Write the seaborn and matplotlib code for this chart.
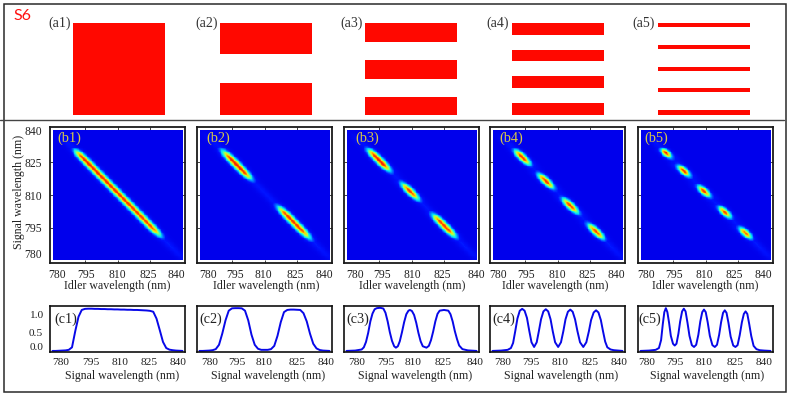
import numpy as np
import matplotlib
matplotlib.use("Agg")
import matplotlib.pyplot as plt
from matplotlib.colors import LinearSegmentedColormap
from matplotlib.transforms import ScaledTranslation
from matplotlib.patches import Rectangle
from matplotlib.lines import Line2D
import seaborn as sns

W, H = 789, 395
tick_values = [780, 795, 810, 825, 840]

x_even = list(np.arange(780, 840.5, 1.5))
c1 = [0, 0, .005, .01, .015, .03, .1, .55, .95, 1.14, 1.17, 1.175, 1.175, 1.17, 1.17, 1.165, 1.165, 1.16, 1.16, 1.155, 1.155,
      1.15, 1.15, 1.145, 1.145, 1.14, 1.14, 1.135, 1.13, 1.125, 1.115, 1.09, .9, .58, .25, .08, .035, .02, .01, .005, 0]
c2 = [0, 0, .005, .01, .02, .05, .17, .48, .85, 1.12, 1.185, 1.19, 1.19, 1.185, 1.12, .85, .45, .17, .06, .03, .03,
      .03, .05, .14, .42, .80, 1.08, 1.14, 1.15, 1.15, 1.145, 1.14, 1.05, .82, .48, .2, .07, .025, .01, .005, 0]
x_c3 = [780, 784, 787, 788, 789, 790, 791, 792, 793, 794, 795.5, 797, 798, 799, 800, 801, 802, 802.8, 803.7, 804.6,
        805.6, 806.6, 807.6, 808.6, 809.3, 810.2, 811.2, 812.2, 813.2, 814.2, 815.2, 816.9, 818, 819, 820, 821, 822,
        823, 825, 827, 828, 829, 830, 831, 832, 833.5, 836, 840]
c3 = [0, .01, .04, .1, .25, .5, .82, 1.04, 1.16, 1.19, 1.2, 1.18, 1.06, .82, .52, .28, .13, .09, .13, .27,
      .52, .8, 1.02, 1.12, 1.14, 1.11, 1.0, .78, .5, .27, .13, .09, .14, .3, .54, .82, 1.03,
      1.12, 1.14, 1.12, 1.02, .82, .55, .33, .15, .05, .015, 0]
x_c4 = [780, 784, 787, 788.5, 789.5, 790.5, 791.5, 792.6, 793.7, 794.8, 795.9, 797, 798, 799.2, 800.4, 801.4, 802.4,
        803.5, 804.6, 805.7, 806.8, 807.8, 808.9, 810.3, 811.6, 812.7, 813.7, 814.8, 815.9, 817, 818.1, 819.2, 820.4,
        821.9, 823.3, 824.5, 825.5, 826.7, 827.8, 828.9, 830, 831, 832, 833, 834.5, 836, 838, 840]
c4 = [0, .01, .03, .08, .22, .55, .9, 1.12, 1.17, 1.12, .92, .55, .24, .11, .24, .55, .88,
      1.1, 1.16, 1.1, .88, .55, .24, .11, .24, .55, .88, 1.09, 1.15, 1.09, .88, .55, .24,
      .11, .24, .55, .86, 1.07, 1.13, 1.07, .86, .55, .26, .1, .04, .02, .01, 0]
x_c5 = [780, 784, 787, 788.5, 789.5, 790.3, 791, 791.7, 792.4, 793.2, 794, 795, 795.8, 796.6, 797.5, 798.3, 799.2, 800,
        800.8, 801.7, 802.6, 803.7, 804.7, 805.7, 806.7, 807.6, 808.5, 809.3, 810.1, 811, 812, 813.2, 814.3, 815.3,
        816.3, 817.2, 818.1, 818.9, 819.7, 820.6, 821.6, 822.8, 823.8, 824.8, 825.8, 826.8, 827.7, 828.5, 829.3, 830.2,
        831.1, 832.2, 833.5, 835, 837, 840]
c5 = [0, .01, .03, .08, .3, .75, 1.08, 1.19, 1.08, .78, .42, .2, .15, .2, .48, .82, 1.1, 1.175,
      1.1, .78, .42, .16, .11, .17, .45, .82, 1.08, 1.15, 1.08, .8, .42, .16, .11, .17,
      .45, .8, 1.06, 1.13, 1.06, .78, .4, .15, .11, .16, .44, .8, 1.03, 1.1, 1.03, .74,
      .42, .14, .05, .02, .01, 0]
spectra = [(x_even, c1), (x_even, c2), (x_c3, c3), (x_c4, c4), (x_c5, c5)]

# faint diagonal glow seen between the lobes and out to the bottom-right corner
glow_x = [780, 783, 786, 787.5, 835, 838.5, 840]
glow = [0, .03, .1, .13, .14, .11, .07]
# falloff across the diagonal, in steps of 0.75 nm of (idler + signal)
cross = [1, .88, .66, .43, .25, .12, .05, .02, 0]

# slit mask edges (fraction of aperture height)
slit_a1 = [(0, 1)]
slit_a2 = [(0, .338), (.655, 1)]
slit_a3 = [(0, .207), (.407, .607), (.804, 1)]
slit_a4 = [(0, .127), (.295, .41), (.582, .705), (.873, 1)]
slit_a5 = [(0, .047), (.24, .284), (.476, .524), (.713, .756), (.949, 1)]
slits = [slit_a1, slit_a2, slit_a3, slit_a4, slit_a5]

a_left = [73, 220.3, 365, 512.3, 658.3]
a_label_x = [59.5, 206.7, 351.7, 497.7, 643.7]
panel_left = [50, 197, 344, 490, 638]
b_label_x = [69.5, 218, 367.7, 511.7, 656.7]
c_label_x = [65.5, 211, 358, 504, 650]
b_xlabel_x = [117, 266.7, 412, 555, 705.7]
c_xlabel_x = [121.7, 268, 415, 561, 706.7]
b_tick_off = [[5, 1.5, 0, -2, -6], [9, 3.5, -1.5, -2, -5], [9, 3.5, .5, -2, 0], [6, 1.5, -.5, -3, -6], [6, 1.5, -1.5, -4, -7]]
c_tick_off = [[8, 5.5, 2.5, -1, -4], [10, 4.5, 0, 0, -3], [10, 7, 1.5, -1, -1], [10, 5.5, 2.5, 0, -3], [6, 1.5, -1.5, -3, -6]]

sns.set_theme(style="white")
plt.rcParams["font.family"] = ["Liberation Serif", "DejaVu Serif"]
plt.rcParams["axes.linewidth"] = 1.1

cmap = LinearSegmentedColormap.from_list(
    "jetlike", ["#0000ec", "#0010ff", "#0070ff", "#00d8ff", "#40ffb0", "#b8ff40", "#ffd000", "#ff5000", "#e80000"])

fig = plt.figure(figsize=(W / 100, H / 100), dpi=100)


def px_axes(x0, y0, x1, y1):
    return fig.add_axes([x0 / W, 1 - y1 / H, (x1 - x0) / W, (y1 - y0) / H])


def shift_labels(labels, dx=None, dy=None):
    for i, lab in enumerate(labels):
        ox = dx[i] if dx is not None else 0
        oy = dy[i] if dy is not None else 0
        lab.set_transform(lab.get_transform() + ScaledTranslation(ox / 100, oy / 100, fig.dpi_scale_trans))


def ftext(x, y, s, **kw):
    kw.setdefault("ha", "center")
    kw.setdefault("va", "center")
    kw.setdefault("zorder", 5)
    fig.text(x / W, 1 - y / H, s, **kw)


# outer frame + divider
fig.add_artist(Rectangle((3.5 / W, 1 - 392 / H), 782 / W, 388 / H, transform=fig.transFigure,
                         fill=False, ec="#2a2a2a", lw=1.1))
fig.add_artist(Line2D([0, 784 / W], [1 - 120 / H] * 2, transform=fig.transFigure, color="#444444", lw=1.0))
ftext(22, 15.5, "S6", color="#ff1010", fontsize=11.5, family=["Lato", "DejaVu Sans"])

# (a) masks
for i, bands in enumerate(slits):
    ax = px_axes(a_left[i], 23, a_left[i] + 91.7, 114.7)
    ax.barh([(s + e) / 2 for s, e in bands], [1] * len(bands), height=[e - s for s, e in bands],
            left=0, color="#ff0800", linewidth=0)
    ax.set_xlim(0, 1)
    ax.set_ylim(1, 0)
    ax.axis("off")
    ftext(a_label_x[i], 23.7, f"(a{i + 1})", color="#333333", fontsize=10)

# (b) joint spectra: the read profile is applied along both axes, mostly the signal
n = 160
step = 60 / n
centers = 780 + step * (np.arange(n) + .5)
margin = 2.5 * n / 130
for i, (sx, sy) in enumerate(spectra):
    left = panel_left[i]
    mirrored = 1621 - centers
    p_sig = np.interp(mirrored, sx, np.array(sy) / 1.2)
    p_idl = np.interp(centers, sx, np.array(sy) / 1.2)
    g_sig = np.interp(mirrored, glow_x, glow)
    cols, rows = np.meshgrid(np.arange(n), np.arange(n))
    lobes = .97 * (p_sig[rows] ** .7) * (p_idl[cols] ** .3)
    k = np.abs(centers[cols] + centers[rows] - 1621) / .75
    weight = np.interp(k, np.arange(len(cross)), cross)
    matrix = np.maximum(lobes, g_sig[rows]) * weight
    ax = px_axes(left, 127, left + 135, 263)
    sns.heatmap(matrix, ax=ax, cmap=cmap, vmin=0, vmax=1, cbar=False, xticklabels=False, yticklabels=False)
    ax.set_xlim(-margin, n + margin)
    ax.set_ylim(-margin, n + margin)
    ax.set_facecolor("white")
    for sp in ax.spines.values():
        sp.set_visible(True)
        sp.set_color("#1a1a1a")
        sp.set_linewidth(1.3)
    pos = [(t - 780) / step for t in tick_values]
    ax.set_xticks(pos, [str(t) for t in tick_values])
    ax.set_yticks(pos, [str(t) for t in tick_values] if i == 0 else [""] * 5)
    ax.tick_params(axis="both", direction="in", length=2, width=.6, color="#222222", top=True, right=True,
                   bottom=True, left=True, labelsize=8.4, pad=4, labelcolor="#222222")
    ax.tick_params(axis="y", pad=6, labelrotation=0)
    ax.tick_params(axis="x", labelrotation=0)
    for axis in (ax.xaxis, ax.yaxis):
        ticks = axis.get_major_ticks()
        for tk in (ticks[0], ticks[-1]):
            tk.tick1line.set_visible(False)
            tk.tick2line.set_visible(False)
    shift_labels(ax.get_xticklabels(), dx=b_tick_off[i])
    if i == 0:
        shift_labels(ax.get_yticklabels(), dy=[7, 0, -1, 0, -1])
        ax.set_ylabel("Signal wavelength (nm)", fontsize=8.6, color="#222222")
        ax.yaxis.set_label_coords(19 / W, 1 - 192 / H, transform=fig.transFigure)
        ax.yaxis.label.set_va("center")
    ax.set_xlabel("Idler wavelength (nm)", fontsize=8.6, color="#222222")
    ax.xaxis.set_label_coords(b_xlabel_x[i] / W, 1 - 286 / H, transform=fig.transFigure)
    ax.xaxis.label.set_va("center")
    ftext(b_label_x[i], 138, f"(b{i + 1})", color="#d8c848", fontsize=10.4)

# (c) marginal spectra
x_span = 135 / 130 * 60 / 2
for i, (sx, sy) in enumerate(spectra):
    left = panel_left[i]
    ax = px_axes(left, 306, left + 135, 352)
    sns.lineplot(x=sx, y=sy, ax=ax, color="#0808e8", lw=1.4, errorbar=None, estimator=None, sort=False)
    ax.set_xlim(810 - x_span, 810 + x_span)
    ax.set_ylim(-.03, 1.25)
    for sp in ax.spines.values():
        sp.set_color("#111111")
        sp.set_linewidth(1.2)
    ax.set_xticks(tick_values, [str(t) for t in tick_values])
    ax.tick_params(axis="x", length=0, labelsize=8.2, pad=4, labelcolor="#222222")
    shift_labels(ax.get_xticklabels(), dx=c_tick_off[i])
    if i == 0:
        ax.set_yticks([0, .5, 1], ["0.0", "0.5", "1.0"])
        ax.tick_params(axis="y", length=0, labelsize=8.2, pad=5, labelcolor="#222222")
        shift_labels(ax.get_yticklabels(), dy=[4, 0, 0])
    else:
        ax.set_yticks([])
    ax.set_xlabel("Signal wavelength (nm)", fontsize=8.6, color="#222222")
    ax.xaxis.set_label_coords(c_xlabel_x[i] / W, 1 - 376 / H, transform=fig.transFigure)
    ax.xaxis.label.set_va("center")
    ftext(c_label_x[i], 319, f"(c{i + 1})", color="#222222", fontsize=10.2)

fig.savefig("out.png", dpi=100)
